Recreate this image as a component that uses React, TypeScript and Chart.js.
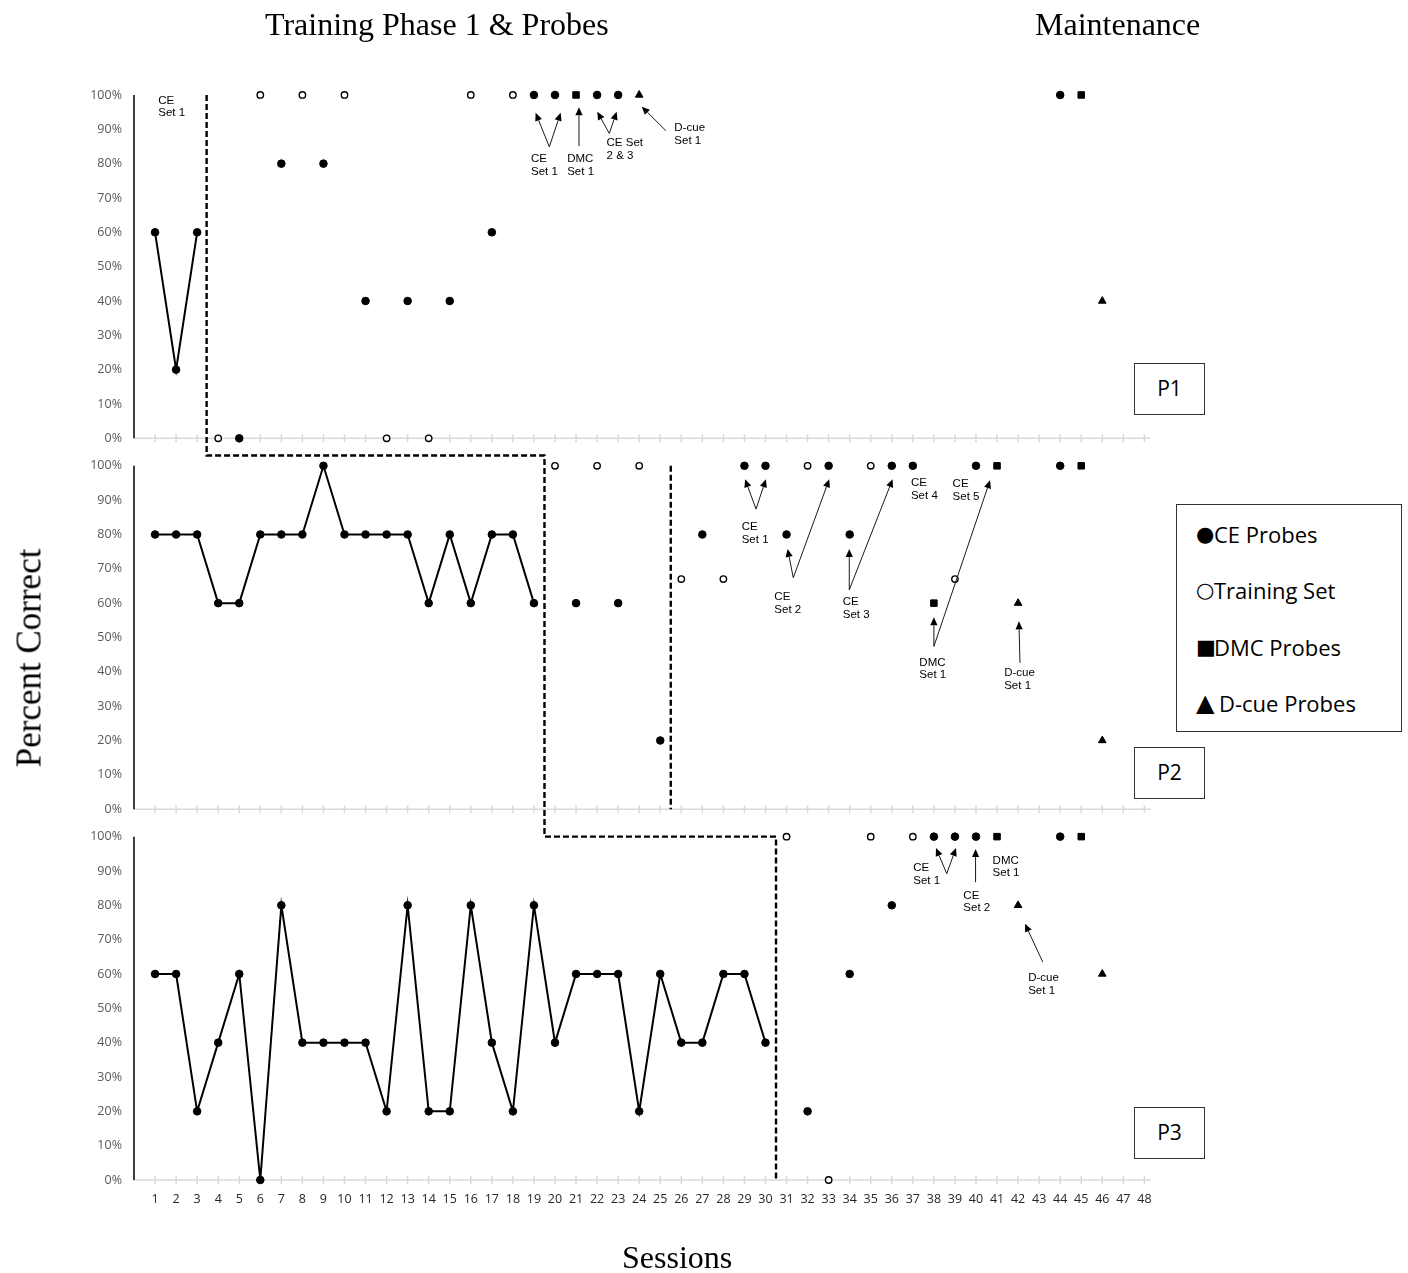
import React, { useEffect, useRef } from 'react';
import { Chart, registerables } from 'chart.js';

Chart.register(...registerables);

// Session numbers shown along the bottom axis
const sessionTicks = [
  1, 2, 3, 4, 5, 6, 7, 8, 9, 10, 11, 12, 13, 14, 15, 16, 17, 18, 19, 20, 21, 22, 23, 24,
  25, 26, 27, 28, 29, 30, 31, 32, 33, 34, 35, 36, 37, 38, 39, 40, 41, 42, 43, 44, 45, 46, 47, 48,
];
const percentTicks = [0, 10, 20, 30, 40, 50, 60, 70, 80, 90, 100];

// P1
const p1BaselineSessions = [1, 2, 3];
const p1BaselineValues = [60, 20, 60];
const p1CeSessions = [5, 7, 9, 11, 13, 15, 17, 19, 20, 22, 23, 44];
const p1CeValues = [0, 80, 80, 40, 40, 40, 60, 100, 100, 100, 100, 100];
const p1TrainingSessions = [4, 6, 8, 10, 12, 14, 16, 18];
const p1TrainingValues = [0, 100, 100, 100, 0, 0, 100, 100];
const p1DmcSessions = [21, 45];
const p1DmcValues = [100, 100];
const p1DcueSessions = [24, 46];
const p1DcueValues = [100, 40];

// P2
const p2BaselineSessions = [1, 2, 3, 4, 5, 6, 7, 8, 9, 10, 11, 12, 13, 14, 15, 16, 17, 18, 19];
const p2BaselineValues = [80, 80, 80, 60, 60, 80, 80, 80, 100, 80, 80, 80, 80, 60, 80, 60, 80, 80, 60];
const p2CeSessions = [21, 23, 25, 27, 29, 30, 31, 33, 34, 36, 37, 40, 44];
const p2CeValues = [60, 60, 20, 80, 100, 100, 80, 100, 80, 100, 100, 100, 100];
const p2TrainingSessions = [20, 22, 24, 26, 28, 32, 35, 39];
const p2TrainingValues = [100, 100, 100, 67, 67, 100, 100, 67];
const p2DmcSessions = [38, 41, 45];
const p2DmcValues = [60, 100, 100];
const p2DcueSessions = [42, 46];
const p2DcueValues = [60, 20];

// P3
const p3BaselineSessions = [
  1, 2, 3, 4, 5, 6, 7, 8, 9, 10, 11, 12, 13, 14, 15, 16, 17, 18, 19, 20, 21, 22, 23, 24, 25, 26, 27, 28, 29, 30,
];
const p3BaselineValues = [
  60, 60, 20, 40, 60, 0, 80, 40, 40, 40, 40, 20, 80, 20, 20, 80, 40, 20, 80, 40, 60, 60, 60, 20, 60, 40, 40, 60, 60, 40,
];
const p3CeSessions = [32, 34, 36, 38, 39, 40, 44];
const p3CeValues = [20, 60, 80, 100, 100, 100, 100];
const p3TrainingSessions = [31, 33, 35, 37];
const p3TrainingValues = [100, 0, 100, 100];
const p3DmcSessions = [41, 45];
const p3DmcValues = [100, 100];
const p3DcueSessions = [42, 46];
const p3DcueValues = [80, 60];

// Phase-change lines (session, percent on the given panel axis)
const phaseLines = [
  [
    { axis: 'y1', x: 3.45, y: 100 },
    { axis: 'y2', x: 3.45, y: 103 },
    { axis: 'y2', x: 19.5, y: 103 },
    { axis: 'y3', x: 19.5, y: 100 },
    { axis: 'y3', x: 30.5, y: 100 },
    { axis: 'y3', x: 30.5, y: 0 },
  ],
  [
    { axis: 'y2', x: 25.5, y: 100 },
    { axis: 'y2', x: 25.5, y: 0 },
  ],
];

// Callout labels (left edge / first line centre)
const calloutTexts = [
  { axis: 'y1', x: 1.15, y: 98.3, lines: ['CE', 'Set 1'] },
  { axis: 'y1', x: 18.86, y: 81.3, lines: ['CE', 'Set 1'] },
  { axis: 'y1', x: 20.58, y: 81.3, lines: ['DMC', 'Set 1'] },
  { axis: 'y1', x: 22.45, y: 86.0, lines: ['CE Set', '2 & 3'] },
  { axis: 'y1', x: 25.67, y: 90.3, lines: ['D-cue', 'Set 1'] },
  { axis: 'y2', x: 28.87, y: 82.1, lines: ['CE', 'Set 1'] },
  { axis: 'y2', x: 30.42, y: 61.7, lines: ['CE', 'Set 2'] },
  { axis: 'y2', x: 33.67, y: 60.3, lines: ['CE', 'Set 3'] },
  { axis: 'y2', x: 36.91, y: 94.9, lines: ['CE', 'Set 4'] },
  { axis: 'y2', x: 38.89, y: 94.7, lines: ['CE', 'Set 5'] },
  { axis: 'y2', x: 37.31, y: 42.7, lines: ['DMC', 'Set 1'] },
  { axis: 'y2', x: 41.34, y: 39.6, lines: ['D-cue', 'Set 1'] },
  { axis: 'y3', x: 37.02, y: 90.8, lines: ['CE', 'Set 1'] },
  { axis: 'y3', x: 39.4, y: 82.8, lines: ['CE', 'Set 2'] },
  { axis: 'y3', x: 40.79, y: 93.0, lines: ['DMC', 'Set 1'] },
  { axis: 'y3', x: 42.48, y: 58.8, lines: ['D-cue', 'Set 1'] },
];

// Callout arrows: tail (x1, y1) to head (x2, y2)
const calloutArrows = [
  { axis: 'y1', x1: 19.73, y1: 84.9, x2: 19.08, y2: 94.8 },
  { axis: 'y1', x1: 19.73, y1: 84.9, x2: 20.27, y2: 94.8 },
  { axis: 'y1', x1: 21.14, y1: 85.1, x2: 21.14, y2: 96.4 },
  { axis: 'y1', x1: 22.58, y1: 88.8, x2: 22.01, y2: 95.1 },
  { axis: 'y1', x1: 22.58, y1: 88.8, x2: 22.93, y2: 95.1 },
  { axis: 'y1', x1: 25.27, y1: 89.6, x2: 24.12, y2: 96.6 },
  { axis: 'y2', x1: 29.55, y1: 87.4, x2: 29.03, y2: 96.1 },
  { axis: 'y2', x1: 29.55, y1: 87.4, x2: 30.02, y2: 96.1 },
  { axis: 'y2', x1: 31.32, y1: 67.4, x2: 31.05, y2: 75.8 },
  { axis: 'y2', x1: 31.32, y1: 67.4, x2: 33.03, y2: 96.1 },
  { axis: 'y2', x1: 33.98, y1: 63.9, x2: 33.98, y2: 75.8 },
  { axis: 'y2', x1: 33.98, y1: 63.9, x2: 36.04, y2: 96.1 },
  { axis: 'y2', x1: 38.0, y1: 47.4, x2: 38.0, y2: 55.9 },
  { axis: 'y2', x1: 38.0, y1: 47.4, x2: 40.67, y2: 95.8 },
  { axis: 'y2', x1: 42.09, y1: 42.6, x2: 42.04, y2: 54.7 },
  { axis: 'y3', x1: 38.61, y1: 89.2, x2: 38.1, y2: 96.7 },
  { axis: 'y3', x1: 38.61, y1: 89.2, x2: 39.05, y2: 96.7 },
  { axis: 'y3', x1: 39.98, y1: 86.7, x2: 39.98, y2: 96.4 },
  { axis: 'y3', x1: 43.17, y1: 63.5, x2: 42.33, y2: 74.6 },
];

const legendSymbols = ['●', '○', '■', '▲'];
const legendLabels = ['CE Probes', 'Training Set', 'DMC Probes', 'D-cue Probes'];
const participantLabels = ['P1', 'P2', 'P3'];

const toPoints = (xs: number[], ys: number[]) => xs.map((x, i) => ({ x, y: ys[i] }));

const filledCircle = {
  pointStyle: 'circle',
  pointRadius: 3.8,
  pointBackgroundColor: '#000',
  pointBorderColor: '#000',
  pointBorderWidth: 1,
};
const openCircle = {
  pointStyle: 'circle',
  pointRadius: 3.2,
  pointBackgroundColor: '#fff',
  pointBorderColor: '#000',
  pointBorderWidth: 1.4,
};
const filledSquare = {
  pointStyle: 'rect',
  pointRadius: 4.6,
  pointBackgroundColor: '#000',
  pointBorderColor: '#000',
  pointBorderWidth: 1,
};
const filledTriangle = {
  pointStyle: 'triangle',
  pointRadius: 4.4,
  pointBackgroundColor: '#000',
  pointBorderColor: '#000',
  pointBorderWidth: 1,
};

const panels = [
  {
    axis: 'y1',
    baseline: toPoints(p1BaselineSessions, p1BaselineValues),
    ce: toPoints(p1CeSessions, p1CeValues),
    training: toPoints(p1TrainingSessions, p1TrainingValues),
    dmc: toPoints(p1DmcSessions, p1DmcValues),
    dcue: toPoints(p1DcueSessions, p1DcueValues),
  },
  {
    axis: 'y2',
    baseline: toPoints(p2BaselineSessions, p2BaselineValues),
    ce: toPoints(p2CeSessions, p2CeValues),
    training: toPoints(p2TrainingSessions, p2TrainingValues),
    dmc: toPoints(p2DmcSessions, p2DmcValues),
    dcue: toPoints(p2DcueSessions, p2DcueValues),
  },
  {
    axis: 'y3',
    baseline: toPoints(p3BaselineSessions, p3BaselineValues),
    ce: toPoints(p3CeSessions, p3CeValues),
    training: toPoints(p3TrainingSessions, p3TrainingValues),
    dmc: toPoints(p3DmcSessions, p3DmcValues),
    dcue: toPoints(p3DcueSessions, p3DcueValues),
  },
];

const panelAxes = ['y1', 'y2', 'y3'];

function drawArrow(ctx: CanvasRenderingContext2D, x1: number, y1: number, x2: number, y2: number) {
  const ang = Math.atan2(y2 - y1, x2 - x1);
  const head = 8;
  const half = 3.6;
  const bx = x2 - Math.cos(ang) * head;
  const by = y2 - Math.sin(ang) * head;
  ctx.beginPath();
  ctx.moveTo(x1, y1);
  ctx.lineTo(bx, by);
  ctx.stroke();
  ctx.beginPath();
  ctx.moveTo(x2, y2);
  ctx.lineTo(bx + Math.sin(ang) * half, by - Math.cos(ang) * half);
  ctx.lineTo(bx - Math.sin(ang) * half, by + Math.cos(ang) * half);
  ctx.closePath();
  ctx.fill();
}

const panelOverlay = {
  id: 'panelOverlay',
  beforeDatasetsDraw(chart: any) {
    const { ctx, chartArea, scales } = chart;
    const xs = scales.x;
    ctx.save();
    for (const id of panelAxes) {
      const ys = scales[id];
      const y0 = ys.getPixelForValue(0);
      // session axis with tick marks
      ctx.strokeStyle = '#d9d9d9';
      ctx.lineWidth = 1.5;
      ctx.beginPath();
      ctx.moveTo(chartArea.left, y0);
      ctx.lineTo(chartArea.right, y0);
      for (const s of sessionTicks) {
        const px = xs.getPixelForValue(s);
        ctx.moveTo(px, y0 - 4);
        ctx.lineTo(px, y0 + 4);
      }
      ctx.stroke();
      // percent axis
      ctx.strokeStyle = '#000';
      ctx.lineWidth = 1.5;
      ctx.beginPath();
      ctx.moveTo(chartArea.left, ys.getPixelForValue(100));
      ctx.lineTo(chartArea.left, y0);
      ctx.stroke();
    }
    // phase-change lines
    ctx.strokeStyle = '#000';
    ctx.lineWidth = 2.4;
    ctx.setLineDash([6, 3]);
    for (const line of phaseLines) {
      ctx.beginPath();
      line.forEach((p, i) => {
        const px = xs.getPixelForValue(p.x);
        const py = scales[p.axis].getPixelForValue(p.y);
        if (i === 0) ctx.moveTo(px, py);
        else ctx.lineTo(px, py);
      });
      ctx.stroke();
    }
    ctx.restore();
  },
  afterDatasetsDraw(chart: any) {
    const { ctx, scales } = chart;
    const xs = scales.x;
    ctx.save();
    ctx.fillStyle = '#000';
    ctx.font = '11.5px "Liberation Sans", Arial, sans-serif';
    ctx.textAlign = 'left';
    ctx.textBaseline = 'middle';
    for (const t of calloutTexts) {
      const px = xs.getPixelForValue(t.x);
      const py = scales[t.axis].getPixelForValue(t.y);
      t.lines.forEach((line, i) => ctx.fillText(line, px, py + i * 12.5));
    }
    ctx.strokeStyle = '#1a1a1a';
    ctx.fillStyle = '#000';
    ctx.lineWidth = 1;
    for (const a of calloutArrows) {
      const ys = scales[a.axis];
      drawArrow(
        ctx,
        xs.getPixelForValue(a.x1),
        ys.getPixelForValue(a.y1),
        xs.getPixelForValue(a.x2),
        ys.getPixelForValue(a.y2),
      );
    }
    ctx.restore();
  },
};

const panelScale = (weight: number) => ({
  type: 'linear',
  position: 'left',
  stack: 'panels',
  stackWeight: 1,
  weight,
  min: 0,
  max: 108,
  afterBuildTicks: (s: any) => {
    s.ticks = percentTicks.map((v) => ({ value: v }));
  },
  afterFit: (s: any) => {
    s.width = 134;
  },
  border: { display: false },
  grid: { display: false, drawTicks: false },
  ticks: {
    autoSkip: false,
    padding: 12,
    color: '#595959',
    font: { family: '"Open Sans", sans-serif', size: 12.5 },
    callback: (v: number) => `${v}%`,
  },
});

function buildDatasets() {
  const out: any[] = [];
  for (const p of panels) {
    const common = { yAxisID: p.axis, xAxisID: 'x', clip: false };
    out.push({ ...common, label: 'CE Probes', data: p.baseline, showLine: true, borderColor: '#000', borderWidth: 2, ...filledCircle });
    out.push({ ...common, label: 'CE Probes', data: p.ce, showLine: false, ...filledCircle });
    out.push({ ...common, label: 'Training Set', data: p.training, showLine: false, ...openCircle });
    out.push({ ...common, label: 'DMC Probes', data: p.dmc, showLine: false, ...filledSquare });
    out.push({ ...common, label: 'D-cue Probes', data: p.dcue, showLine: false, ...filledTriangle });
  }
  return out;
}

const serif = '"Liberation Serif", "Times New Roman", serif';
const sans = '"Open Sans", sans-serif';

export default function App() {
  const canvasRef = useRef<HTMLCanvasElement | null>(null);

  useEffect(() => {
    if (!canvasRef.current) return;
    const chart = new Chart(canvasRef.current, {
      type: 'scatter',
      data: { datasets: buildDatasets() },
      options: {
        responsive: false,
        animation: false,
        events: [],
        layout: { padding: { top: 67.5, left: 0, right: 257.3, bottom: 53 } },
        plugins: { legend: { display: false }, tooltip: { enabled: false } },
        scales: {
          x: {
            type: 'linear',
            position: 'bottom',
            min: 0,
            max: 48.3,
            afterBuildTicks: (s: any) => {
              s.ticks = sessionTicks.map((v) => ({ value: v }));
            },
            afterFit: (s: any) => {
              s.height = 40;
            },
            border: { display: false },
            grid: { display: false, drawTicks: false },
            ticks: {
              autoSkip: false,
              maxRotation: 0,
              padding: 12,
              color: '#262626',
              font: { family: sans, size: 12.5 },
            },
          },
          y1: panelScale(3),
          y2: panelScale(2),
          y3: panelScale(1),
        } as any,
      },
      plugins: [panelOverlay],
    } as any);
    return () => chart.destroy();
  }, []);

  return (
    <div style={{ position: 'absolute', left: 0, top: 0, width: 1408, height: 1273, background: '#fff', overflow: 'hidden' }}>
      <canvas ref={canvasRef} width={1408} height={1273} style={{ display: 'block', position: 'absolute', left: 0, top: 0 }} />
      <div style={{ position: 'absolute', left: 265, top: 8, fontFamily: serif, fontSize: 32, lineHeight: '32px', whiteSpace: 'nowrap' }}>
        Training Phase 1 &amp; Probes
      </div>
      <div style={{ position: 'absolute', left: 1035, top: 8, fontFamily: serif, fontSize: 32, lineHeight: '32px', whiteSpace: 'nowrap' }}>
        Maintenance
      </div>
      <div style={{ position: 'absolute', left: 622, top: 1241, fontFamily: serif, fontSize: 32, lineHeight: '32px', whiteSpace: 'nowrap' }}>
        Sessions
      </div>
      <div
        style={{
          position: 'absolute',
          left: 29,
          top: 658,
          fontFamily: serif,
          fontSize: 35,
          lineHeight: '35px',
          whiteSpace: 'nowrap',
          transform: 'translate(-50%, -50%) rotate(-90deg)',
        }}
      >
        Percent Correct
      </div>
      <div
        style={{
          position: 'absolute',
          left: 1176,
          top: 504,
          width: 226,
          height: 228,
          boxSizing: 'border-box',
          border: '1.5px solid #333',
          background: '#fff',
        }}
      >
        {legendLabels.map((label, i) => (
          <div
            key={label}
            style={{
              position: 'absolute',
              left: 19,
              top: 29 + i * 56.4 - 16,
              height: 32,
              display: 'flex',
              alignItems: 'center',
              whiteSpace: 'nowrap',
              fontFamily: sans,
              fontSize: 22,
              color: '#000',
            }}
          >
            <span
              style={{
                display: 'inline-block',
                width: i === 3 ? 23 : 18,
                overflow: 'visible',
                textAlign: 'left',
                fontFamily: '"DejaVu Sans", sans-serif',
                fontSize: i === 3 ? 24 : 21,
                lineHeight: '32px',
              }}
            >
              {legendSymbols[i]}
            </span>
            <span style={{ lineHeight: '32px' }}>{label}</span>
          </div>
        ))}
      </div>
      {participantLabels.map((p, i) => (
        <div
          key={p}
          style={{
            position: 'absolute',
            left: 1134,
            top: [363, 747, 1107][i],
            width: 71,
            height: 52,
            boxSizing: 'border-box',
            border: '1.5px solid #333',
            background: '#fff',
            fontFamily: sans,
            fontSize: 21,
            lineHeight: '49px',
            textAlign: 'center',
          }}
        >
          {p}
        </div>
      ))}
    </div>
  );
}
